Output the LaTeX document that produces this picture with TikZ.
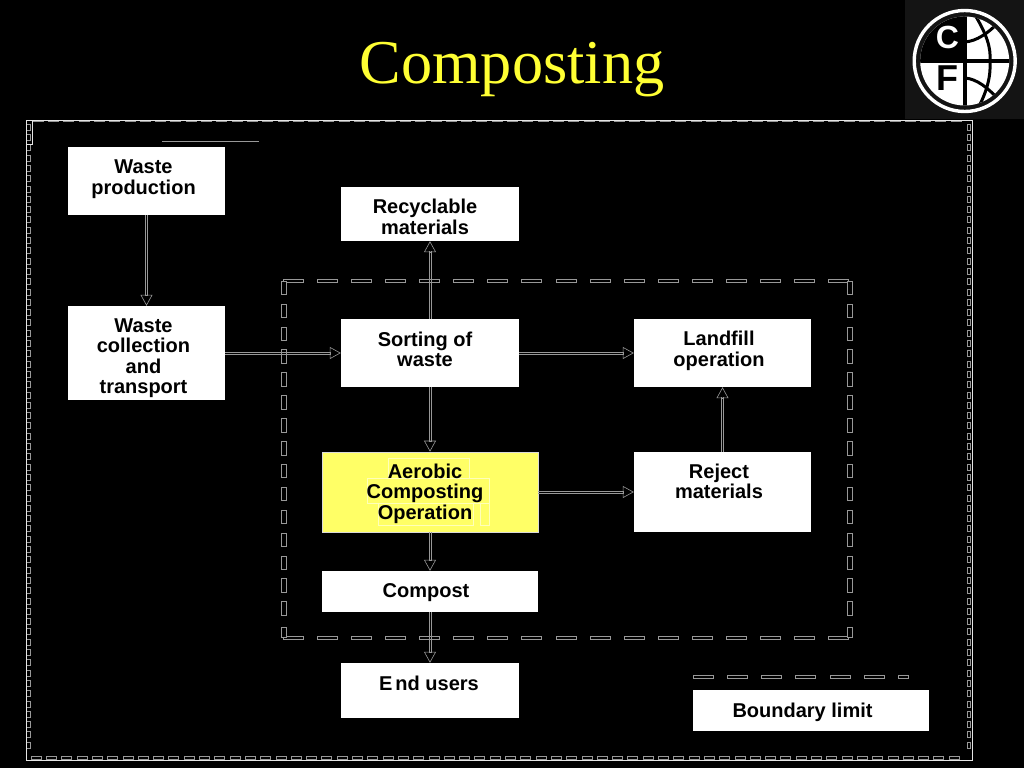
\documentclass[tikz,border=0pt]{standalone}
\usepackage{fontspec}
\setmainfont{Liberation Sans}
\newfontfamily\titlefont{Liberation Serif}
\usetikzlibrary{arrows.meta,calc}
\definecolor{lineg}{HTML}{989898}
\definecolor{compyellow}{HTML}{FFFF66}
\definecolor{titley}{HTML}{FFFF33}
\tikzset{
  box/.style={fill=white,draw=none,inner sep=0pt,minimum width=#1},
  txt/.style={font=\bfseries\fontsize{20}{20.5}\selectfont,align=center,inner sep=0pt,text=black},
  dashbox/.style={draw=lineg,line width=.6pt,fill=black},
  flowline/.style={draw=lineg,line width=.6pt,shorten >=10pt},
  flowtip/.style={draw=lineg,line width=.6pt,-{Triangle[open,length=11pt,width=12pt,line width=.6pt]},shorten <=0pt},
}
% vertical and horizontal double connector with a hollow head
\newcommand\flowv[2]{%
  \draw[flowline] ($(#1)+(-1,0)$) -- ($(#2)+(-1,0)$);
  \draw[flowline] ($(#1)+(1,0)$) -- ($(#2)+(1,0)$);
  \draw[flowtip] ($(#2)!11pt!(#1)$) -- (#2);}
\newcommand\flowh[2]{%
  \draw[flowline] ($(#1)+(0,-1)$) -- ($(#2)+(0,-1)$);
  \draw[flowline] ($(#1)+(0,1)$) -- ($(#2)+(0,1)$);
  \draw[flowtip] ($(#2)!11pt!(#1)$) -- (#2);}
\begin{document}
\begin{tikzpicture}[x=1pt,y=-1pt]
\useasboundingbox (0,0) rectangle (1024,768);
\fill[black] (0,0) rectangle (1024,768);
% logo
\fill[black!92!white] (905,0) rectangle (1024,119);
\draw[white,line width=3.4pt] (964.7,61) circle[radius=50.5pt];
\fill[white] (964.7,61) circle[radius=44.5pt];
\begin{scope}
  \clip (964.7,61) circle[radius=44.5pt];
  \fill[black] (915,10) rectangle (965,61);
  \fill[black] (915,58.5) rectangle (1015,63);
  \fill[black] (963,10) rectangle (966.5,112);
  \draw[black,line width=3pt] (975,15) .. controls (987,35) and (991,48) .. (990,61) .. controls (991,76) and (987,92) .. (977,110);
  \draw[black,line width=3pt] (965,42) .. controls (977,41) and (988,33) .. (998,23);
  \draw[black,line width=3pt] (965,78) .. controls (977,79) and (988,88) .. (998,99);
\end{scope}
\node[inner sep=0pt,text=white,font=\bfseries\fontsize{32}{32}\selectfont] (logoc) at (947.5,37) {C};
\node[inner sep=0pt,text=black,font=\bfseries\fontsize{36}{36}\selectfont] (logof) at (947.5,78.5) {F};
% title
\node[inner sep=0pt,text=titley,font=\titlefont\fontsize{62.3}{62.3}\selectfont,anchor=base] (title) at (512,83) {Composting};
% outer frame
\foreach \x in {33,48.3,...,955} \draw[dashbox] (\x,120) rectangle ++(10,1.6);
\foreach \x in {31,46.3,...,955} \draw[dashbox] (\x,756.5) rectangle ++(10,2.5);
\foreach \y in {124,134.3,...,752} {\draw[dashbox] (26.5,\y) rectangle ++(3.5,6); \draw[dashbox] (967,\y) rectangle ++(3.5,6);}
\draw[white!90!black,line width=.9pt] (26,144) -- (26,120) -- (972.5,120) -- (972.5,760.5) -- (26,760.5) -- (26,144);
\draw[white!90!black,line width=.7pt] (26,144) -- (32,144) -- (32,120);
\draw[lineg,line width=1pt] (162,141) -- (259,141);
% inner boundary
\foreach \x in {283,317.1,...,830} {\draw[dashbox] (\x,279) rectangle ++(20,3); \draw[dashbox] (\x,636) rectangle ++(20,3);}
\foreach \y in {281,303.9,...,620} {\draw[dashbox] (281.5,\y) rectangle ++(5,13.5); \draw[dashbox] (847.5,\y) rectangle ++(5,13.5);}
\draw[dashbox] (281.5,627) rectangle ++(5,10);
\draw[dashbox] (847.5,627) rectangle ++(5,10);
% legend dashes
\foreach \x in {693,727.2,...,870} \draw[dashbox] (\x,675.5) rectangle ++(20,3);
\draw[dashbox] (898.5,675.5) rectangle ++(10,3);
% boxes
\node[box=157pt,minimum height=68pt] (wp) at (146.5,181) {};
\node[box=157pt,minimum height=94pt] (wc) at (146.5,353) {};
\node[box=178pt,minimum height=54pt] (rm) at (430,214) {};
\node[box=178pt,minimum height=68pt] (so) at (430,353) {};
\node[box=177pt,minimum height=68pt] (lf) at (722.5,353) {};
\node[box=216pt,minimum height=80pt,fill=compyellow,draw=white!85!black,line width=.6pt] (ac) at (430,492) {};
\node[box=177pt,minimum height=80pt] (re) at (722.5,492) {};
\node[box=216pt,minimum height=41pt] (co) at (430,591.5) {};
\node[box=178pt,minimum height=55pt] (eu) at (430,690.5) {};
\node[box=236pt,minimum height=41pt] (bl) at (811,710.5) {};
% faint text frames
\draw[white,line width=.5pt,opacity=.55] (388,458) rectangle (469,478) (367,478) rectangle (489,503) (378,503) rectangle (473,525) (480,503) rectangle (489,525);
% connectors
\flowv{wp.south}{wc.north}
\flowh{wc.east}{so.west}
\flowv{so.north}{rm.south}
\flowh{so.east}{lf.west}
\flowv{so.south}{ac.north}
\flowh{ac.east}{re.west}
\flowv{re.north}{lf.south}
\flowv{ac.south}{co.north}
\flowv{co.south}{eu.north}
% labels
\node[txt] (twp) at (143.5,179) {Waste\\production};
\node[txt] (twc) at (143.5,358) {Waste\\collection\\and\\transport};
\node[txt] (trm) at (425,217) {Recyclable\\materials};
\node[txt] (tso) at (425,349.5) {Sorting of\\waste};
\node[txt] (tlf) at (719,351) {Landfill\\operation};
\node[txt] (tac) at (425,493.5) {Aerobic\\Composting\\Operation};
\node[txt] (tre) at (719,481.5) {Reject\\materials};
\node[txt] (tco) at (426,592.5) {Compost};
\node[txt] (teu) at (429,683) {E\hspace{3pt}nd users};
\node[txt] (tbl) at (802.5,712) {Boundary limit};
\end{tikzpicture}
\end{document}
